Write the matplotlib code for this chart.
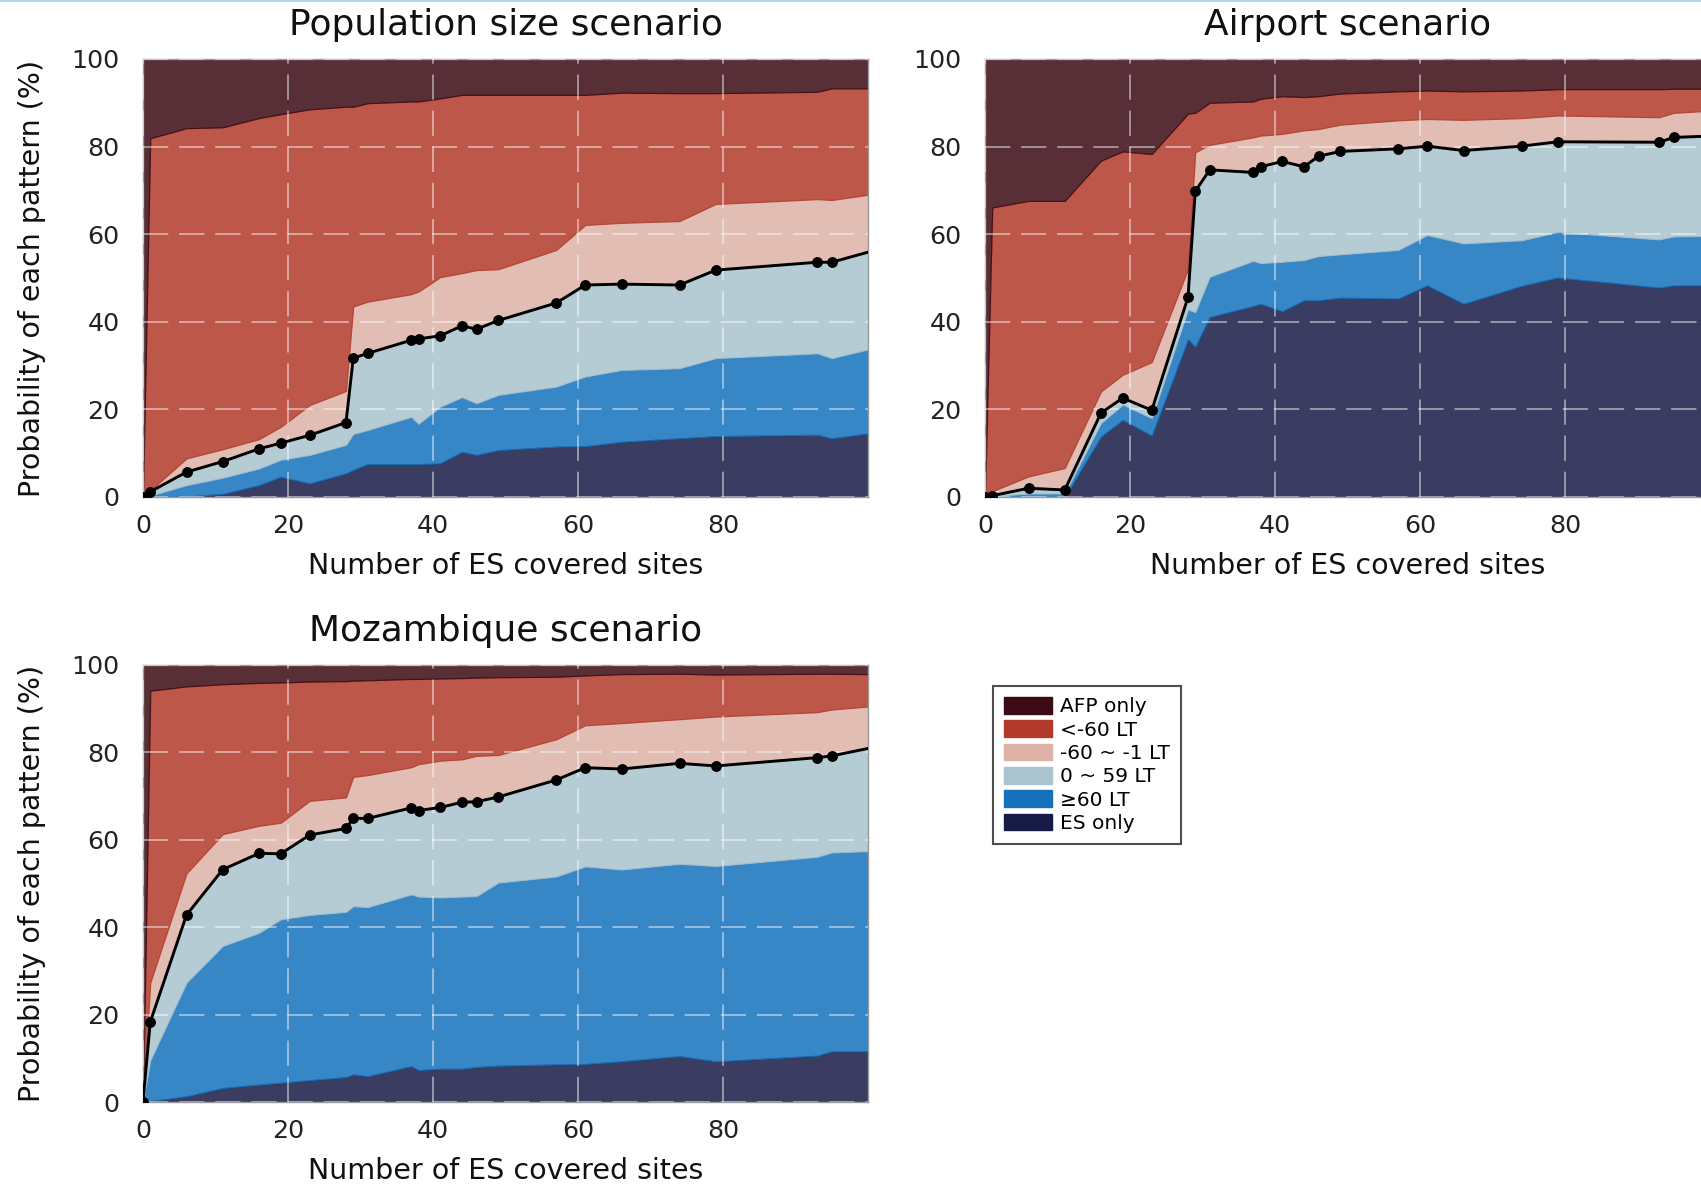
import numpy as np
import matplotlib
matplotlib.use("Agg")
import matplotlib.pyplot as plt
from matplotlib.lines import Line2D
from matplotlib.patches import Patch

# number of ES covered sites (same grid in every scenario)
sites = [0, 1, 6, 11, 16, 19, 23, 28, 29, 31, 37, 38, 41, 44, 46, 49, 57, 61, 66, 74, 79, 93, 95, 100]

# upper edge of each band, in % (cumulative from the bottom: ES only, >=60, 0~59, -60~-1, <-60; AFP only fills to 100)
pop_es_only = [0, 0, 0.1, 0.7, 2.7, 4.6, 3.1, 5.4, 6.2, 7.5, 7.5, 7.5, 7.7, 10.3, 9.6, 10.7, 11.5, 11.6, 12.6, 13.4, 13.9, 14.2, 13.4, 14.5]
pop_ge60 = [0, 0.3, 2.7, 4.4, 6.5, 8.5, 9.6, 11.9, 14.4, 15.3, 18.3, 16.7, 20.6, 22.8, 21.4, 23.3, 25.2, 27.5, 29.0, 29.4, 31.7, 32.8, 31.7, 33.7]
pop_0_59 = [0, 1.2, 5.7, 8.1, 11.0, 12.3, 14.1, 17.0, 31.7, 32.8, 35.8, 36.1, 36.8, 39.1, 38.3, 40.3, 44.3, 48.4, 48.6, 48.4, 51.8, 53.6, 53.6, 55.9]
pop_m60_m1 = [0, 1.5, 8.8, 10.9, 13.2, 16.0, 21.0, 24.2, 43.5, 44.6, 46.3, 46.9, 50.2, 51.1, 51.8, 52.0, 56.4, 62.1, 62.6, 63.0, 66.9, 68.0, 67.8, 69.0]
pop_lt_m60 = [0, 81.9, 84.2, 84.4, 86.5, 87.4, 88.5, 89.1, 89.1, 89.9, 90.3, 90.3, 91.0, 91.8, 91.8, 91.8, 91.8, 91.8, 92.3, 92.2, 92.2, 92.5, 93.3, 93.3]

air_es_only = [0, 0, 0, 0, 13.8, 17.6, 14.0, 36.0, 34.3, 41.1, 43.6, 44.1, 42.4, 44.9, 44.9, 45.5, 45.3, 48.3, 44.1, 48.2, 50.1, 47.8, 48.3, 48.3]
air_ge60 = [0, 0.2, 0.8, 0.8, 16.9, 21.1, 18.0, 42.8, 42.2, 50.3, 53.9, 53.4, 53.7, 54.1, 55.0, 55.4, 56.4, 59.8, 57.9, 58.6, 60.5, 58.8, 59.5, 59.6]
air_0_59 = [0, 0.3, 2.0, 1.6, 19.2, 22.6, 19.8, 45.6, 69.8, 74.7, 74.1, 75.4, 76.6, 75.4, 77.8, 78.9, 79.5, 80.1, 79.1, 80.1, 81.1, 81.0, 82.1, 82.4]
air_m60_m1 = [0, 1.3, 4.7, 6.6, 24.1, 27.9, 30.8, 52.0, 78.7, 80.4, 82.1, 82.5, 82.9, 83.7, 84.0, 85.0, 86.0, 86.3, 86.1, 86.5, 87.1, 86.7, 87.7, 88.2]
air_lt_m60 = [0, 66.1, 67.6, 67.6, 76.8, 78.9, 78.3, 87.5, 87.7, 90.0, 90.3, 90.9, 91.5, 91.3, 91.5, 92.1, 92.6, 92.8, 92.6, 92.8, 93.1, 93.1, 93.2, 93.2]

moz_es_only = [0, 0.2, 1.3, 3.2, 4.0, 4.4, 5.0, 5.7, 6.3, 5.9, 8.2, 7.3, 7.6, 7.6, 8.0, 8.3, 8.6, 8.7, 9.3, 10.5, 9.3, 10.6, 11.6, 11.6]
moz_ge60 = [0, 9.5, 27.3, 35.7, 38.7, 41.8, 42.8, 43.5, 44.8, 44.6, 47.5, 47.0, 46.8, 47.0, 47.1, 50.2, 51.6, 53.9, 53.2, 54.5, 54.0, 56.1, 57.1, 57.4]
moz_0_59 = [0, 18.3, 42.8, 53.2, 56.9, 56.8, 61.1, 62.6, 64.9, 64.9, 67.3, 66.7, 67.4, 68.6, 68.7, 69.8, 73.7, 76.5, 76.2, 77.5, 76.9, 78.8, 79.2, 80.9]
moz_m60_m1 = [0, 27.3, 52.3, 61.3, 63.2, 63.9, 68.9, 69.7, 74.4, 74.8, 76.6, 77.3, 78.1, 78.4, 79.2, 79.4, 83.0, 86.2, 86.7, 87.6, 88.2, 89.2, 89.8, 90.5]
moz_lt_m60 = [0, 94.1, 95.1, 95.6, 95.9, 96.0, 96.2, 96.3, 96.4, 96.5, 96.8, 96.8, 96.9, 97.0, 97.1, 97.2, 97.3, 97.6, 97.9, 98.0, 97.8, 98.0, 98.0, 97.9]

patterns = ["ES only", "≥60 LT", "0 ~ 59 LT", "-60 ~ -1 LT", "<-60 LT", "AFP only"]
colors = ["#171b45", "#1471bb", "#aac3ce", "#dcb2a6", "#b23a2a", "#3b0a14"]

scenarios = [
    ("Population size scenario", [pop_es_only, pop_ge60, pop_0_59, pop_m60_m1, pop_lt_m60], True),
    ("Airport scenario", [air_es_only, air_ge60, air_0_59, air_m60_m1, air_lt_m60], False),
    ("Mozambique scenario", [moz_es_only, moz_ge60, moz_0_59, moz_m60_m1, moz_lt_m60], True),
]

W, H = 1701, 1186
fig = plt.figure(figsize=(W / 100, H / 100), dpi=100)
# axes boxes in pixels: left, top, width, height
boxes = [(143, 59, 725, 438), (985, 59, 725, 438), (143, 665, 725, 437)]


def draw_panel(ax, title, edges, with_ylabel):
    x = np.array(sites)
    top_all = np.full(len(x), 100.0)
    lows = [np.zeros(len(x))] + [np.array(e) for e in edges]
    highs = [np.array(e) for e in edges] + [top_all]
    for lo, hi, c in zip(lows, highs, colors):
        ax.fill_between(x, lo, hi, facecolor=c, alpha=0.85, edgecolor=c, linewidth=0.8, zorder=1)
    # line = probability that ES detects no later than AFP (top of 0~59 band)
    ax.plot(x, edges[2], color="black", lw=2.1, marker="o", ms=6.8,
            markevery=list(range(len(x) - 1)), zorder=3)

    ax.set_xlim(0, 100)
    ax.set_ylim(0, 100)
    ax.set_xticks([0, 20, 40, 60, 80])
    ax.set_yticks([0, 20, 40, 60, 80, 100])
    ax.tick_params(axis="both", length=0, labelsize=18.3, colors="#222222")
    ax.tick_params(axis="x", pad=12)
    ax.tick_params(axis="y", pad=17)
    ax.grid(True, color="white", alpha=0.5, lw=1.3, linestyle=(0, (14, 6)), zorder=2)
    ax.set_axisbelow(False)
    for s in ax.spines.values():
        s.set_color("#9a9a9a")
        s.set_linewidth(1.0)
    ax.set_xlabel("Number of ES covered sites", fontsize=20.5, labelpad=10, color="#111111")
    if with_ylabel:
        ax.set_ylabel("Probability of each pattern (%)", fontsize=20.5, labelpad=18, color="#111111")
    ax.set_title(title, fontsize=25.9, pad=17, color="#111111")


for (title, edges, with_ylabel), (l, t, w, h) in zip(scenarios, boxes):
    ax = fig.add_axes([l / W, 1 - (t + h) / H, w / W, h / H])
    draw_panel(ax, title, edges, with_ylabel)

handles = [Patch(facecolor=c, edgecolor=c, label=p) for p, c in zip(patterns, colors)][::-1]
leg = fig.legend(handles=handles, loc="upper left", bbox_to_anchor=(993 / W, 1 - 686 / H),
                 fontsize=14.5, frameon=True, fancybox=False, handlelength=2.4,
                 handleheight=0.9, handletextpad=0.4, labelspacing=0.2,
                 borderpad=0.55, borderaxespad=0)
leg.get_frame().set_edgecolor("#222222")
leg.get_frame().set_linewidth(1.5)

# thin blue rule along the top edge of the original screenshot
fig.add_artist(Line2D([0, 1], [1 - 1 / H, 1 - 1 / H], color="#b7d7f0", lw=1.5))

fig.savefig("out.png", dpi=100)
